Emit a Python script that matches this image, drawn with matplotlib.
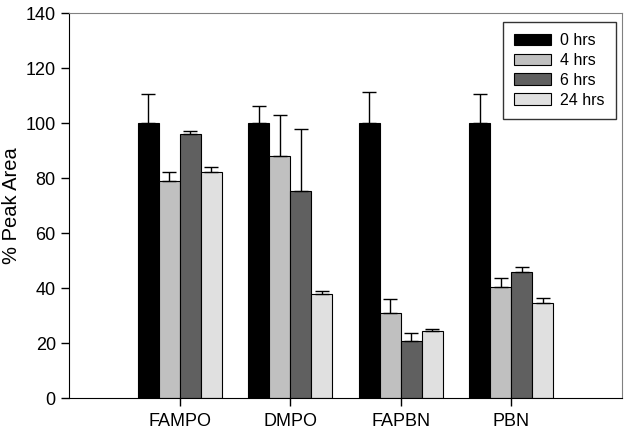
import matplotlib.pyplot as plt
import numpy as np

plt.rcParams['font.family'] = ['Liberation Sans', 'DejaVu Sans']

categories = ['FAMPO', 'DMPO', 'FAPBN', 'PBN']
series_names = ['0 hrs', '4 hrs', '6 hrs', '24 hrs']
values_0 = [100, 100, 100, 100]
values_4 = [79.1, 87.9, 30.9, 40.5]
values_6 = [96.0, 75.4, 20.9, 46.0]
values_24 = [82.1, 37.7, 24.5, 34.7]
err_0 = [10.6, 6.4, 11.2, 10.5]
err_4 = [3.0, 15.2, 5.1, 3.3]
err_6 = [1.3, 22.3, 2.6, 1.5]
err_24 = [1.9, 1.3, 0.7, 1.6]
colors = ['#000000', '#c0c0c0', '#606060', '#e0e0e0']

fig, ax = plt.subplots(figsize=(6.27, 4.37), dpi=100)
fig.subplots_adjust(left=0.11, right=0.992, top=0.97, bottom=0.089)

x = np.arange(1, len(categories) + 1)
w = 0.19
all_vals = [values_0, values_4, values_6, values_24]
all_errs = [err_0, err_4, err_6, err_24]
for i, (vals, errs) in enumerate(zip(all_vals, all_errs)):
    pos = x + (i - 1.5) * w
    ax.bar(pos, vals, w, color=colors[i], edgecolor='black', linewidth=0.8,
           label=series_names[i], zorder=2)
    ax.errorbar(pos, vals, yerr=[np.zeros(len(errs)), errs], fmt='none',
                ecolor='black', elinewidth=1, capsize=5, capthick=1, zorder=3)

ax.set_xlim(0, 5)
ax.set_ylim(0, 140)
ax.set_yticks(range(0, 141, 20))
ax.set_xticks(x)
ax.set_xticklabels(categories)
ax.tick_params(axis='both', labelsize=13, direction='out', length=6, width=1)
ax.tick_params(axis='x', pad=5)
ax.set_ylabel('% Peak Area', fontsize=14.5, labelpad=3.5)
for s in ['top', 'right']:
    ax.spines[s].set_color('#808080')
    ax.spines[s].set_linewidth(0.8)

leg = ax.legend(loc='upper right', fontsize=11.5, frameon=True, fancybox=False,
                edgecolor='black', handlelength=2.3, handleheight=0.72,
                handletextpad=0.6, borderpad=0.7, labelspacing=0.3,
                borderaxespad=0, bbox_to_anchor=(0.989, 0.977))
leg.get_frame().set_linewidth(1)

plt.savefig('out.png')
